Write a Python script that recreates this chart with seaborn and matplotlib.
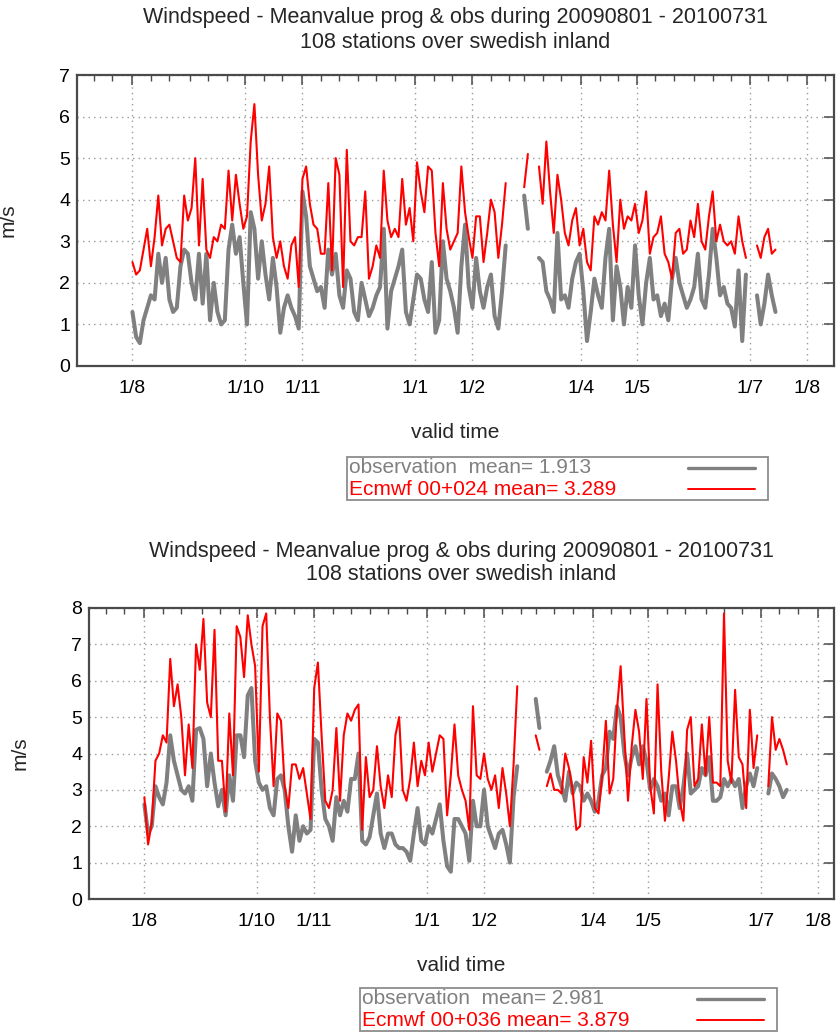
import numpy as np
import pandas as pd
import matplotlib
matplotlib.use("Agg")
import matplotlib.pyplot as plt
import matplotlib.dates as mdates
from matplotlib.lines import Line2D
from matplotlib.patches import Rectangle
import seaborn as sns

nan = np.nan

# ------------------------------------------------------------
# data: mean wind speed (m/s), one value every 2nd day from 2009-08-01
# ------------------------------------------------------------
START = "2009-08-01"
STEP = "2D"

TITLE_1 = "Windspeed - Meanvalue prog & obs during 20090801 - 20100731"
TITLE_2 = "108 stations over swedish inland"

# panel 1: forecast +024
obs_024 = [
    1.3, 0.7, 0.55, 1.1, 1.4, 1.7, 1.6, 2.7, 2.0, 2.6,
    1.6, 1.3, 1.4, 2.4, 2.8, 2.7, 2.0, 1.6, 2.7, 1.5,
    2.7, 1.1, 2.0, 1.3, 1.0, 1.1, 2.8, 3.4, 2.7, 3.1,
    2.0, 1.0, 3.7, 3.3, 2.1, 3.0, 2.2, 1.6, 2.6, 1.9,
    0.8, 1.4, 1.7, 1.4, 1.2, 0.9, 4.2, 3.6, 2.4, 2.1,
    1.8, 1.9, 1.4, 2.8, 2.2, 2.7, 1.7, 1.4, 2.3, 2.1,
    1.3, 1.1, 2.0, 1.6, 1.2, 1.4, 1.7, 1.9, 3.3, 0.9,
    1.8, 2.1, 2.4, 2.8, 1.3, 1.0, 1.6, 2.2, 2.1, 1.6,
    1.3, 2.5, 0.8, 1.1, 3.0, 2.1, 1.8, 1.4, 0.8, 2.4,
    3.4, 1.9, 1.4, 2.6, 1.8, 1.4, 1.9, 2.2, 1.2, 0.9,
    1.8, 2.9, nan, nan, nan, nan, 4.1, 3.3, nan, nan,
    2.6, 2.5, 1.8, 1.6, 1.3, 3.2, 1.6, 1.7, 1.4, 2.1,
    2.5, 2.7, 1.8, 0.6, 1.3, 2.1, 1.7, 1.4, 2.6, 3.3,
    1.1, 2.4, 1.9, 1.0, 1.9, 1.4, 2.9, 1.7, 1.0, 2.0,
    2.6, 1.6, 1.7, 1.2, 1.5, 1.1, 2.1, 2.6, 2.0, 1.7,
    1.4, 1.6, 1.9, 2.7, 1.6, 1.4, 2.2, 3.3, 2.6, 1.7,
    1.9, 1.5, 1.4, 0.95, 2.3, 0.6, 2.2, nan, nan, 1.7,
    1.0, 1.5, 2.2, 1.7, 1.3,
]
fc_024 = [
    2.5, 2.2, 2.3, 2.8, 3.3, 2.4, 3.1, 4.1, 2.9, 3.3,
    3.4, 3.0, 2.6, 2.5, 4.1, 3.5, 3.8, 5.0, 2.9, 4.5,
    2.8, 2.6, 3.1, 3.0, 3.4, 3.3, 4.7, 3.5, 4.6, 3.9,
    3.3, 3.6, 5.4, 6.3, 4.6, 3.5, 3.9, 4.8, 3.1, 2.6,
    3.0, 2.4, 2.1, 2.9, 3.1, 1.9, 4.5, 4.8, 3.9, 3.4,
    3.3, 2.7, 2.7, 4.4, 2.3, 5.0, 4.6, 1.9, 5.2, 3.0,
    2.9, 3.1, 3.1, 4.2, 2.1, 2.4, 2.9, 2.6, 4.7, 3.5,
    3.1, 3.3, 3.1, 4.5, 3.4, 3.8, 3.0, 4.9, 4.2, 3.7,
    4.8, 4.7, 3.2, 2.4, 4.4, 3.3, 2.8, 3.0, 3.2, 4.8,
    3.7, 3.1, 2.6, 3.6, 3.6, 2.5, 3.2, 4.0, 3.7, 2.6,
    3.4, 4.4, nan, nan, nan, nan, 4.3, 5.1, nan, nan,
    4.8, 3.9, 5.4, 4.2, 3.2, 4.6, 4.0, 3.2, 2.9, 3.5,
    3.8, 2.9, 3.3, 2.5, 2.3, 3.6, 3.4, 3.7, 3.5, 4.7,
    3.4, 2.5, 4.0, 3.3, 3.6, 3.5, 3.9, 3.2, 3.5, 4.2,
    2.7, 3.1, 3.2, 3.6, 2.7, 2.5, 2.1, 3.2, 3.3, 2.7,
    2.8, 3.5, 3.1, 3.9, 3.0, 2.8, 3.6, 4.2, 3.0, 3.4,
    3.0, 2.9, 3.0, 2.7, 3.6, 3.0, 2.6, nan, nan, 2.9,
    2.6, 3.1, 3.3, 2.7, 2.8,
]

# panel 2: forecast +036
obs_036 = [
    2.6, 1.8, 2.0, 3.1, 2.8, 2.6, 3.2, 4.5, 3.8, 3.4,
    3.0, 2.9, 3.1, 2.7, 4.65, 4.7, 4.4, 3.1, 4.0, 3.2,
    2.55, 3.0, 2.3, 3.4, 2.7, 4.5, 4.5, 3.9, 5.6, 5.8,
    3.8, 3.2, 3.0, 3.1, 2.5, 2.3, 3.3, 3.4, 3.0, 2.0,
    1.3, 2.3, 1.6, 2.0, 1.8, 1.9, 4.4, 4.3, 3.0, 2.2,
    2.0, 1.6, 2.8, 2.3, 2.7, 2.4, 3.3, 3.3, 4.0, 1.6,
    1.5, 1.7, 2.3, 2.9, 1.8, 1.4, 1.8, 1.8, 1.5, 1.4,
    1.4, 1.3, 1.05, 1.8, 2.5, 1.6, 1.5, 2.0, 1.8, 2.2,
    2.6, 1.6, 0.9, 0.75, 2.2, 2.2, 2.0, 1.8, 1.05, 2.7,
    2.0, 2.0, 3.0, 2.0, 1.7, 1.4, 1.8, 1.9, 1.5, 1.0,
    2.8, 3.65, nan, nan, nan, nan, 5.5, 4.7, nan, 3.5,
    3.8, 4.2, 3.4, 3.1, 2.7, 3.5, 2.9, 3.2, 3.1, 2.7,
    2.9, 2.7, 2.4, 2.7, 3.4, 3.6, 4.6, 4.4, 5.3, 5.0,
    4.0, 3.4, 3.9, 4.2, 3.7, 4.2, 3.8, 3.0, 3.3, 3.1,
    2.7, 2.9, 2.3, 3.1, 3.1, 2.5, 3.1, 4.0, 2.9, 3.0,
    3.1, 3.6, 3.4, 3.9, 2.7, 2.7, 2.8, 3.3, 3.1, 3.3,
    3.1, 3.3, 2.5, 3.1, 3.45, 3.1, 3.6, nan, nan, 2.9,
    3.45, 3.3, 3.1, 2.8, 3.0,
]
fc_036 = [
    2.8, 1.5, 2.1, 3.8, 4.0, 4.5, 4.3, 6.6, 5.3, 5.9,
    5.0, 3.4, 4.8, 3.6, 7.0, 6.3, 7.7, 5.4, 5.0, 7.4,
    3.8, 3.8, 2.4, 5.1, 3.4, 7.5, 7.2, 6.1, 7.8, 7.0,
    6.4, 3.5, 7.5, 7.85, 5.0, 3.1, 5.1, 4.9, 3.1, 2.5,
    3.7, 3.7, 3.3, 3.6, 2.9, 2.2, 5.8, 6.5, 4.5, 2.7,
    2.5, 3.0, 4.7, 2.7, 4.5, 5.1, 4.9, 5.2, 5.35, 1.9,
    3.9, 2.8, 3.0, 4.2, 3.1, 2.5, 3.4, 2.8, 4.5, 5.0,
    3.0, 2.7, 3.3, 4.3, 3.1, 3.8, 3.4, 4.3, 3.5, 4.0,
    4.5, 4.4, 2.3, 3.4, 4.8, 3.4, 3.0, 2.7, 1.9, 5.3,
    3.4, 3.3, 4.0, 3.3, 3.0, 3.4, 2.5, 3.6, 2.9, 2.0,
    3.7, 5.85, nan, nan, nan, nan, 4.5, 4.1, nan, 3.1,
    3.45, 3.0, 3.0, 2.9, 4.0, 3.6, 3.0, 1.9, 2.0, 3.9,
    3.2, 4.35, 2.5, 2.35, 3.4, 4.9, 2.9, 3.3, 5.2, 6.4,
    4.5, 2.7, 4.2, 5.2, 4.6, 3.3, 5.5, 3.1, 2.35, 5.9,
    3.5, 2.15, 3.3, 4.6, 3.8, 2.7, 2.15, 4.65, 5.0, 3.1,
    3.3, 4.8, 3.4, 5.0, 3.2, 3.2, 3.1, 7.85, 3.8, 3.2,
    5.75, 3.9, 3.7, 2.5, 5.2, 3.6, 4.5, nan, nan, 3.1,
    5.0, 4.1, 4.4, 4.1, 3.7,
]

obs_labels = ["observation  mean= 1.913", "observation  mean= 2.981"]
fc_labels = ["Ecmwf 00+024 mean= 3.289", "Ecmwf 00+036 mean= 3.879"]

month_ticks = ["2009-08-01", "2009-10-01", "2009-11-01", "2010-01-01", "2010-02-01",
               "2010-04-01", "2010-05-01", "2010-07-01", "2010-08-01"]
month_labels = ["1/8", "1/10", "1/11", "1/1", "1/2", "1/4", "1/5", "1/7", "1/8"]

OBS_COLOR = "#808080"
FC_COLOR = "#ff0000"
FRAME_COLOR = "#4a4a4a"


def to_frame(values):
    """Series -> long frame, gaps (nan) split the line into separate units."""
    times = pd.date_range(START, periods=len(values), freq=STEP)
    df = pd.DataFrame({"time": times, "speed": np.asarray(values, dtype=float)})
    df["seg"] = df["speed"].isna().cumsum()
    return df.dropna()


def px(x, y):
    """pixel position (from top left) -> figure fraction"""
    return x / W, 1 - y / H


# ============================================================
# FIGURE
# ============================================================
sns.set_theme(style="white")
plt.rcParams["font.family"] = ["Liberation Sans", "DejaVu Sans"]

W, H = 836, 1035
fig = plt.figure(figsize=(W / 100, H / 100), dpi=100)

panels = [
    # axes box in pixels (left, top, right, bottom), key box (left, top, right, bottom)
    dict(box=(77, 75, 834, 366), ymax=7, xend="2010-08-15 16:00",
         obs=obs_024, fc=fc_024, lab=(obs_labels[0], fc_labels[0]),
         key=(347, 457, 768, 500)),
    dict(box=(89, 608, 834, 899), ymax=8, xend="2010-08-09 14:00",
         obs=obs_036, fc=fc_036, lab=(obs_labels[1], fc_labels[1]),
         key=(360, 988, 777, 1031)),
]

for p in panels:
    l, t, r, b = p["box"]
    ax = fig.add_axes([l / W, 1 - b / H, (r - l) / W, (b - t) / H])

    sns.lineplot(data=to_frame(p["obs"]), x="time", y="speed", units="seg",
                 estimator=None, color=OBS_COLOR, lw=2.9, ax=ax, legend=False)
    sns.lineplot(data=to_frame(p["fc"]), x="time", y="speed", units="seg",
                 estimator=None, color=FC_COLOR, lw=1.5, ax=ax, legend=False)

    ax.set_xlim(pd.Timestamp("2009-07-02"), pd.Timestamp(p["xend"]))
    ax.set_ylim(0, p["ymax"])
    ax.set_yticks(range(0, p["ymax"] + 1))
    ax.set_xticks(mdates.date2num(pd.to_datetime(month_ticks)), labels=month_labels)
    ax.xaxis.set_minor_locator(mdates.DayLocator(bymonthday=[1, 11, 21]))

    ax.grid(True, which="major", color="#9a9a9a", linestyle=(0, (1, 3)), lw=1.0)
    ax.tick_params(which="both", direction="in", top=True, right=True,
                   color=FRAME_COLOR, labelsize=14, labelcolor="black")
    ax.tick_params(which="major", length=7, width=1.1)
    ax.tick_params(which="minor", length=4, width=1.0)
    ax.tick_params(axis="x", pad=10)
    ax.tick_params(axis="y", pad=5)
    for sp in ax.spines.values():
        sp.set_color(FRAME_COLOR)
        sp.set_linewidth(1.6)

    ax.set_xlabel("valid time", fontsize=15)
    ax.set_ylabel("m/s", fontsize=15)
    ax.xaxis.set_label_coords(0.5, -57 / (b - t))
    ax.yaxis.set_label_coords(-59 / (r - l), 0.5)

    # two line title, centred over the plot box
    xc = (l + r) / 2
    fig.text(*px(xc, t - 57), TITLE_1, ha="center", va="center", fontsize=15.5)
    fig.text(*px(xc, t - 33), TITLE_2, ha="center", va="center", fontsize=15.5)

    # gnuplot-like key: text left, sample line on the right
    kl, kt, kr, kb = p["key"]
    x0, y0 = px(kl, kb)
    x1, y1 = px(kr, kt)
    fig.add_artist(Rectangle((x0, y0), x1 - x0, y1 - y0, transform=fig.transFigure,
                             facecolor="white", edgecolor="#8c8c8c", lw=1.3))
    row_h = (kb - kt) / 2
    for i, (label, color, lw) in enumerate(zip(p["lab"], [OBS_COLOR, FC_COLOR], [2.4, 1.4])):
        yc = kt + row_h * (i + 0.5)
        fig.text(*px(kl + 2, yc), label, ha="left", va="center", fontsize=15, color=color)
        xa, ya = px(kr - 80, yc)
        xb, _ = px(kr - 13, yc)
        fig.add_artist(Line2D([xa, xb], [ya, ya], transform=fig.transFigure, color=color, lw=lw))

fig.savefig("out.png", dpi=100)
